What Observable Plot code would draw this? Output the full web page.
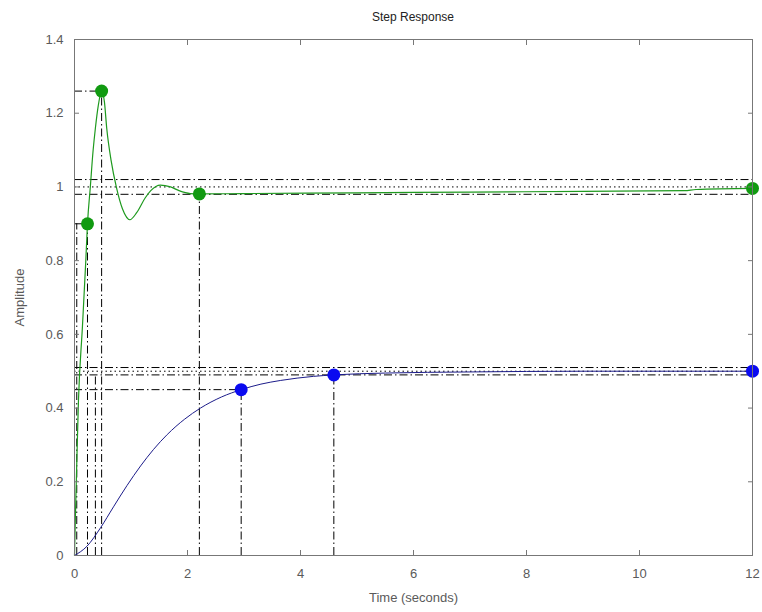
<!DOCTYPE html>
<html>
<head>
<meta charset="utf-8">
<script src="https://cdn.jsdelivr.net/npm/d3@7"></script>
<script src="https://cdn.jsdelivr.net/npm/@observablehq/plot@0.6"></script>
<style>
  body { margin: 0; background: #fff; font-family: "Liberation Sans", Arial, sans-serif; }
  #title { position: relative; width: 762px; height: 30px; }
  #title span { position: absolute; left: 74px; width: 678px; top: 10px; text-align: center; font-size: 12px; color: #222; }
</style>
</head>
<body>
<div id="title"><span>Step Response</span></div>
<div id="chart"></div>
<script>
// Tick labels
const tickX = [0, 2, 4, 6, 8, 10, 12];
const tickY = [0, 0.2, 0.4, 0.6, 0.8, 1, 1.2, 1.4];

// Green (second-order, underdamped) response
const greenT = [0, 0.015, 0.035, 0.07, 0.14, 0.2, 0.23, 0.28, 0.33, 0.37, 0.42, 0.48, 0.53, 0.57, 0.65, 0.74, 0.85, 0.98, 1.1, 1.25, 1.35, 1.52, 1.7, 1.85, 2.05, 2.21, 3, 5, 7, 9, 10.8, 11, 12];
const greenA = [0, 0.1, 0.22, 0.42, 0.62, 0.8, 0.9, 1.0, 1.1, 1.16, 1.22, 1.26, 1.23, 1.16, 1.07, 1.0, 0.94, 0.911, 0.93, 0.97, 0.99, 1.005, 1.0, 0.99, 0.982, 0.981, 0.982, 0.984, 0.986, 0.988, 0.99, 0.993, 0.996];

// Blue (first-order-like) response
const blueT = [0, 0.22, 0.46, 0.69, 0.93, 1.17, 1.4, 1.64, 1.95, 2.23, 2.6, 2.95, 3.3, 3.65, 4.23, 4.59, 5.5, 7, 9, 12];
const blueA = [0, 0.025, 0.075, 0.132, 0.19, 0.243, 0.288, 0.328, 0.37, 0.4, 0.43, 0.45, 0.465, 0.475, 0.486, 0.49, 0.495, 0.498, 0.5, 0.5];

// Characteristic markers (rise time, peak, settling time, final value)
const greenMarkT = [0.23, 0.48, 2.21, 12];
const greenMarkA = [0.9, 1.26, 0.981, 0.996];
const blueMarkT = [2.95, 4.59, 12];
const blueMarkA = [0.45, 0.49, 0.5];

// Reference lines
const bandY = [1.02, 0.98, 0.51, 0.49];      // settling bounds (dash-dot, full width)
const finalY = [1.0, 0.5];                   // steady-state (dotted, full width)
const hLineY = [1.26, 0.9, 0.45];            // horizontal guide to marker
const hLineEnd = [0.48, 0.23, 2.95];
const vLineT = [0.04, 0.23, 0.37, 0.48, 2.21, 2.95, 4.59]; // vertical guide to marker
const vLineTop = [0.9, 0.9, 0.49, 1.26, 0.981, 0.45, 0.49];

const GREEN = "#119a11";
const GREEN_LINE = "#1e9a1e";
const BLUE = "#0a0af0";
const BLUE_LINE = "#1c1c8a";
const DASHDOT = "8,3,1.5,3";
const AXIS = "#777";

const green = greenT.map((t, i) => ({t, a: greenA[i]}));
const blue = blueT.map((t, i) => ({t, a: blueA[i]}));
const greenMarks = greenMarkT.map((t, i) => ({t, a: greenMarkA[i]}));
const blueMarks = blueMarkT.map((t, i) => ({t, a: blueMarkA[i]}));

const chart = Plot.plot({
  width: 762,
  height: 582,
  marginLeft: 74,
  marginRight: 10,
  marginTop: 9,
  marginBottom: 57,
  x: {domain: [0, 12]},
  y: {domain: [0, 1.4]},
  style: {fontFamily: "'Liberation Sans', Arial, sans-serif", fontSize: "13px", color: "#5a5a5a", background: "#fff", overflow: "visible"},
  marks: [
    Plot.ruleY(bandY, {y: d => d, stroke: "#000", strokeWidth: 1, strokeDasharray: DASHDOT}),
    Plot.ruleY(finalY, {y: d => d, stroke: "#000", strokeWidth: 1, strokeDasharray: "1.5,3"}),
    Plot.ruleY(hLineY, {y: d => d, x1: () => 0, x2: (d, i) => hLineEnd[i], stroke: "#000", strokeWidth: 1, strokeDasharray: DASHDOT}),
    Plot.ruleX(vLineT, {x: d => d, y1: () => 0, y2: (d, i) => vLineTop[i], stroke: "#000", strokeWidth: 1, strokeDasharray: DASHDOT}),
    Plot.line(blue, {x: "t", y: "a", stroke: BLUE_LINE, strokeWidth: 1, curve: "monotone-x"}),
    Plot.line(green, {x: "t", y: "a", stroke: GREEN_LINE, strokeWidth: 1.2, curve: "monotone-x"}),
    Plot.dot(greenMarks, {x: "t", y: "a", r: 6.5, fill: GREEN, stroke: "none"}),
    Plot.dot(blueMarks, {x: "t", y: "a", r: 6.5, fill: BLUE, stroke: "none"}),
    Plot.frame({stroke: AXIS}),
    Plot.axisX({ticks: tickX, tickSize: -5, tickPadding: 18, stroke: AXIS, tickFormat: d3.format("~g"), label: "Time (seconds)", labelAnchor: "center", labelArrow: "none", labelOffset: 46}),
    Plot.axisX({anchor: "top", ticks: tickX, tickSize: -5, stroke: AXIS, tickFormat: () => "", label: null}),
    Plot.axisY({ticks: tickY, tickSize: -5, tickPadding: 16, stroke: AXIS, tickFormat: d3.format("~g"), label: "Amplitude", labelAnchor: "center", labelArrow: "none", labelOffset: 60}),
    Plot.axisY({anchor: "right", ticks: tickY, tickSize: -5, stroke: AXIS, tickFormat: () => "", label: null})
  ]
});
document.getElementById("chart").appendChild(chart);
</script>
</body>
</html>
